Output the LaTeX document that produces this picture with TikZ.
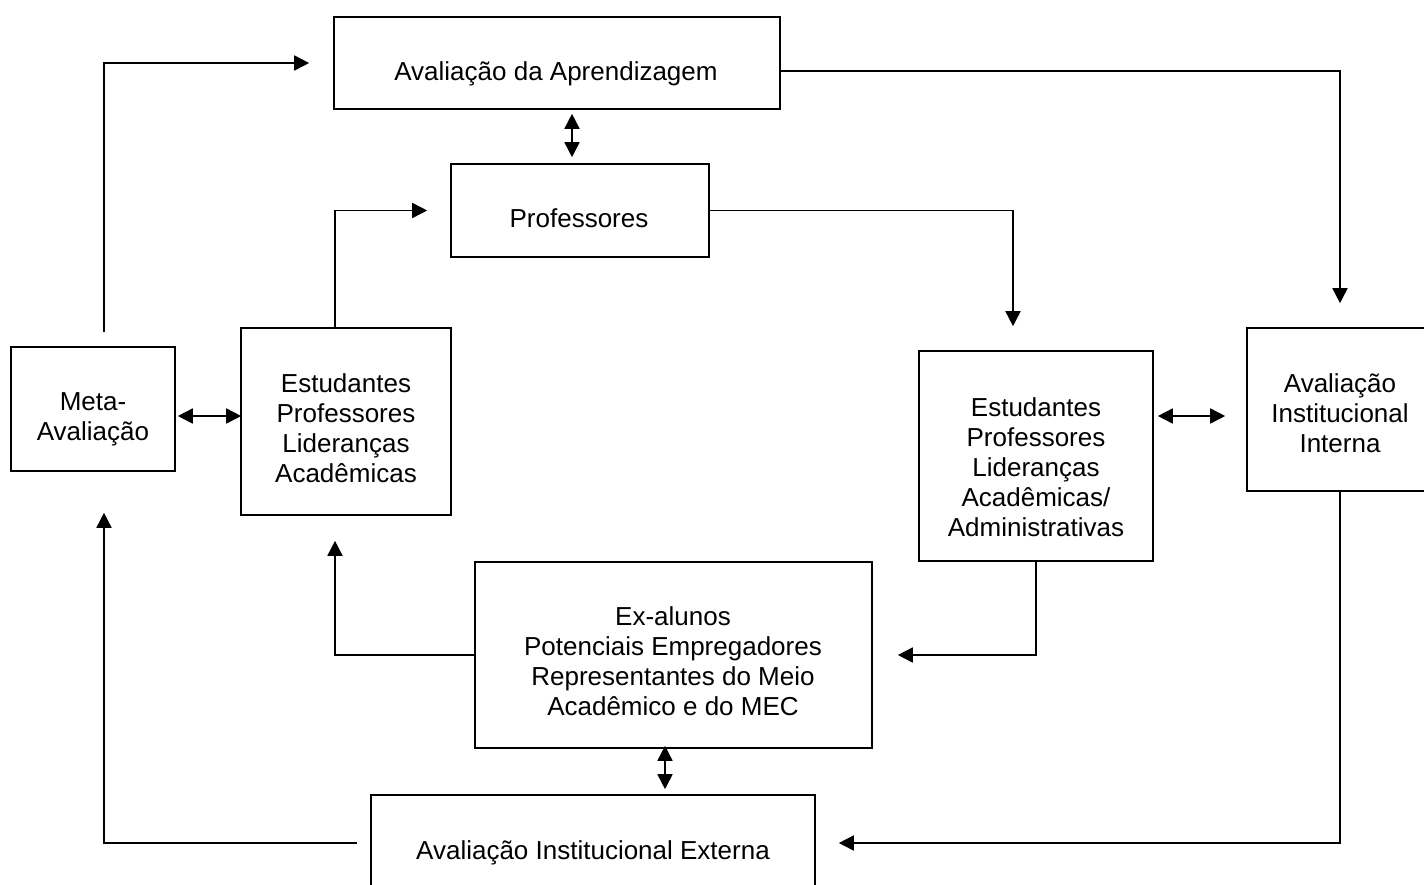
\documentclass[tikz,border=0pt]{standalone}
\usepackage{fontspec}
\setmainfont{Liberation Sans}
\usetikzlibrary{arrows.meta}
\tikzset{
  box/.style={draw, line width=1.6pt, rectangle, inner sep=0pt},
  lbl/.style={align=center, inner sep=0pt, font=\fontsize{26}{30}\selectfont},
  conn/.style={line width=1.6pt},
  arr/.style={conn, -{Triangle[length=15pt,width=15pt]}},
  darr/.style={conn, {Triangle[length=15pt,width=15pt]}-{Triangle[length=15pt,width=15pt]}},
}
\begin{document}
\begin{tikzpicture}[x=1pt,y=-1pt]
\useasboundingbox (0,0) rectangle (1424,884);
\clip (0,0) rectangle (1424,884);
% boxes
\node[box, minimum width=446pt, minimum height=92pt] (A) at (557,63) {};
\node[box, minimum width=258pt, minimum height=93pt] (P) at (580,210.5) {};
\node[box, minimum width=164pt, minimum height=124pt] (M) at (93,409) {};
\node[box, minimum width=210pt, minimum height=187pt] (S1) at (346,421.5) {};
\node[box, minimum width=234pt, minimum height=210pt] (S2) at (1036,456) {};
\node[box, minimum width=186pt, minimum height=163pt] (I) at (1340,409.5) {};
\node[box, minimum width=397pt, minimum height=186pt] (E) at (673.5,655) {};
\node[box, minimum width=444pt, minimum height=110pt] (X) at (593,850) {};
% labels
\node[lbl] (tA) at (556,74) {Avaliação da Aprendizagem};
\node[lbl] (tP) at (579,218) {Professores};
\node[lbl] (tM) at (93,419) {Meta-\\Avaliação};
\node[lbl] (tS1) at (346,428) {Estudantes\\Professores\\Lideranças\\Acadêmicas};
\node[lbl] (tS2) at (1036,467) {Estudantes\\Professores\\Lideranças\\Acadêmicas/\\Administrativas};
\node[lbl] (tI) at (1340,413) {Avaliação\\Institucional\\Interna};
\node[lbl] (tE) at (673,661) {Ex-alunos\\Potenciais Empregadores\\Representantes do Meio\\Acadêmico e do MEC};
\node[lbl] (tX) at (593,853) {Avaliação Institucional Externa};
% connectors
\draw[arr] ([shift={(11,-14)}]M.north) |- ([shift={(-24,0)}]A.west);
\draw[arr] ([shift={(0,8)}]A.east) -| ([shift={(0,-24)}]I.north);
\draw[darr] ([shift={(15,4)}]A.south) -- ([shift={(-8,-6)}]P.north);
\draw[arr] ([shift={(-11,0)}]S1.north) |- ([shift={(-23,0)}]P.west);
\draw[arr] (P.east) -| ([shift={(-23,-24)}]S2.north);
\draw[darr] ([shift={(2,7)}]M.east) -- ([shift={(1,-5.5)}]S1.west);
\draw[darr] ([shift={(4,-40)}]S2.east) -- ([shift={(-21,6.5)}]I.west);
\draw[arr] (S2.south) |- ([shift={(25,0)}]E.east);
\draw[arr] (E.west) -| ([shift={(-11,25)}]S1.south);
\draw[darr] ([shift={(-8.5,-3)}]E.south) -- ([shift={(72,-5)}]X.north);
\draw[arr] (I.south) |- ([shift={(23,-7)}]X.east);
\draw[arr] ([shift={(-13,-7)}]X.west) -| ([shift={(11,41)}]M.south);
\end{tikzpicture}
\end{document}
